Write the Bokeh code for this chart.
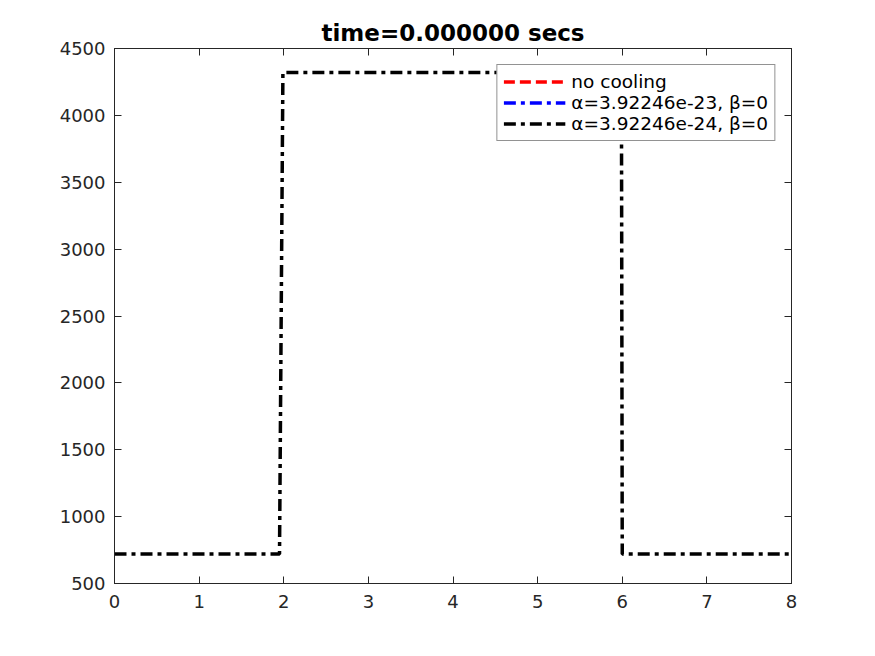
from bokeh.plotting import figure
from bokeh.models import LinearAxis, Range1d, FixedTicker, Legend, LegendItem
from bokeh.embed import file_html
from bokeh.resources import INLINE

# Data
x_pos = [0.0, 1.95, 1.99, 5.99, 6.0, 8.0]
y_no_cooling = [720, 720, 4320, 4320, 720, 720]
y_alpha_23 = [720, 720, 4320, 4320, 720, 720]
y_alpha_24 = [720, 720, 4320, 4320, 720, 720]
labels = ["no cooling", "α=3.92246e-23, β=0", "α=3.92246e-24, β=0"]
x_ticks = [0, 1, 2, 3, 4, 5, 6, 7, 8]
y_ticks = [500, 1000, 1500, 2000, 2500, 3000, 3500, 4000, 4500]
title_text = "time=0.000000 secs"

FONT = "DejaVu Sans"
AX = "#262626"

p = figure(width=875, height=656, output_backend="svg", toolbar_location=None,
           x_range=Range1d(0, 8), y_range=Range1d(500, 4500),
           min_border_left=114, min_border_right=84, min_border_top=48,
           min_border_bottom=73, title=title_text)
p.title.text_font = FONT
p.title.text_font_size = "23px"
p.title.text_font_style = "bold"
p.title.align = "center"
p.title.text_color = "black"
p.title.standoff = 6

p.xgrid.visible = False
p.ygrid.visible = False
p.outline_line_color = AX
p.outline_line_width = 1
p.background_fill_color = "white"
p.border_fill_color = "white"

def style_axis(ax, ticks, show_labels, standoff=8):
    ax.ticker = FixedTicker(ticks=ticks)
    ax.major_tick_in = 7
    ax.major_tick_out = 0
    ax.minor_tick_in = 0
    ax.minor_tick_out = 0
    ax.axis_line_color = AX
    ax.major_tick_line_color = AX
    ax.major_label_text_font = FONT
    ax.major_label_text_color = AX
    if show_labels:
        ax.major_label_text_font_size = "18px"
        ax.major_label_standoff = standoff
    else:
        ax.major_label_text_font_size = "0px"
        ax.major_label_standoff = 0
        ax.major_label_text_color = None

style_axis(p.xaxis[0], x_ticks, True, standoff=11)
style_axis(p.yaxis[0], y_ticks, True, standoff=9)
top = LinearAxis()
right = LinearAxis()
style_axis(top, x_ticks, False)
style_axis(right, y_ticks, False)
p.add_layout(top, "above")
p.add_layout(right, "right")

r1 = p.line(x_pos, y_no_cooling, line_color="red", line_width=3.5, line_dash="11 5")
r2 = p.line(x_pos, y_alpha_23, line_color="blue", line_width=3.5, line_dash="12 5 4 5")
r3 = p.line(x_pos, y_alpha_24, line_color="black", line_width=3.5, line_dash="12 5 4 5")
# only the last (black) curve is visible in the plot area; the others lie beneath it
r1.visible = False
r2.visible = False

legend = Legend(items=[LegendItem(label=labels[0], renderers=[r1]),
                       LegendItem(label=labels[1], renderers=[r2]),
                       LegendItem(label=labels[2], renderers=[r3])],
                location="top_right")
legend.margin = 16
legend.padding = 6
legend.spacing = 0
legend.label_height = 21
legend.glyph_height = 21
legend.glyph_width = 62
legend.label_standoff = 6
legend.label_text_font = FONT
legend.label_text_font_size = "18.5px"
legend.label_text_color = "black"
legend.border_line_color = AX
legend.border_line_width = 1
legend.background_fill_color = "white"
legend.background_fill_alpha = 1.0
legend.inactive_fill_alpha = 0.0
p.add_layout(legend)

open("out.html", "w").write(file_html(p, INLINE))
